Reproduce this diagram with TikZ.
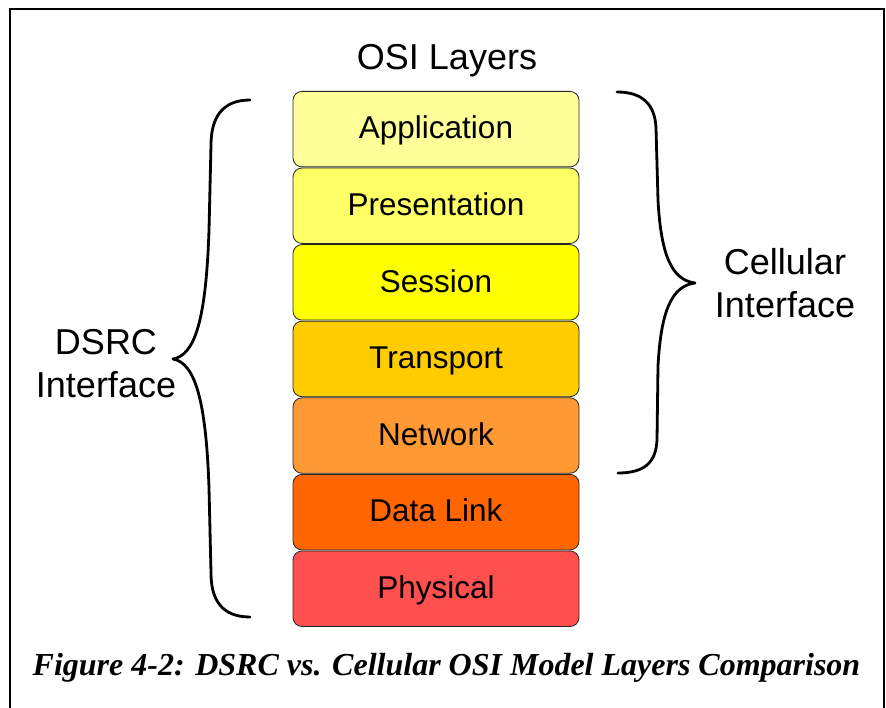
\documentclass[tikz,border=0pt]{standalone}
\usepackage{fontspec}
\setmainfont{Liberation Sans}
\newfontfamily\capfont{Liberation Serif}
\definecolor{cApp}{HTML}{FFFF99}
\definecolor{cPre}{HTML}{FFFF66}
\definecolor{cSes}{HTML}{FFFF00}
\definecolor{cTra}{HTML}{FFCC00}
\definecolor{cNet}{HTML}{FF9933}
\definecolor{cDat}{HTML}{FF6600}
\definecolor{cPhy}{HTML}{FF5050}
\begin{document}
\begin{tikzpicture}[x=1pt,y=-1pt,
  layer/.style={draw=black!85, line width=0.8pt, rounded corners=9pt,
    minimum width=286pt, minimum height=75.5pt, inner sep=0pt, anchor=north,
    text height=22.5pt, text depth=3pt,
    font=\fontsize{31.5}{36}\selectfont},
  brace/.style={line width=2.8pt, line cap=round, line join=round},
  sidelabel/.style={font=\fontsize{36}{43}\selectfont, align=center}]
\useasboundingbox (0,0) rectangle (886,708);
\fill[white] (0,0) rectangle (886,708);
% frame
\draw[line width=2.2pt] (10,720) -- (10,9) -- (884,9) -- (884,720);

% OSI stack
\node[layer, fill=cApp] (app) at (436,91.0)  {Application};
\node[layer, fill=cPre] (pre) at (436,167.6) {Presentation};
\node[layer, fill=cSes] (ses) at (436,244.2) {Session};
\node[layer, fill=cTra] (tra) at (436,320.8) {Transport};
\node[layer, fill=cNet] (net) at (436,397.4) {Network};
\node[layer, fill=cDat] (dat) at (436,474.0) {Data Link};
\node[layer, fill=cPhy] (phy) at (436,550.6) {Physical};

\node[sidelabel] (title) at (447,61) {OSI Layers};

% left brace (DSRC)
\draw[brace] (250,100) .. controls (222,100) and (211,118) .. (211,145)
  -- (209,230) .. controls (206,320) and (195,355) .. (173,359)
  .. controls (195,363) and (206,400) .. (209,488)
  -- (211,573) .. controls (211,600) and (222,617) .. (250,617);
\node[sidelabel] (dsrc) at (106,364) {DSRC\\Interface};

% right brace (Cellular)
\draw[brace] (617,92) .. controls (643,92) and (655,105) .. (656,128)
  -- (658,200) .. controls (661,256) and (672,280) .. (695,283)
  .. controls (672,286) and (661,310) .. (658,366)
  -- (657,440) .. controls (656,462) and (645,473) .. (618,473);
\node[sidelabel] (cell) at (785,283) {Cellular\\Interface};

% caption
\node[font=\capfont\bfseries\itshape\fontsize{32}{36}\selectfont] (cap) at (446.5,668)
  {Figure 4-2: DSRC vs. Cellular OSI Model Layers Comparison};
\end{tikzpicture}
\end{document}
